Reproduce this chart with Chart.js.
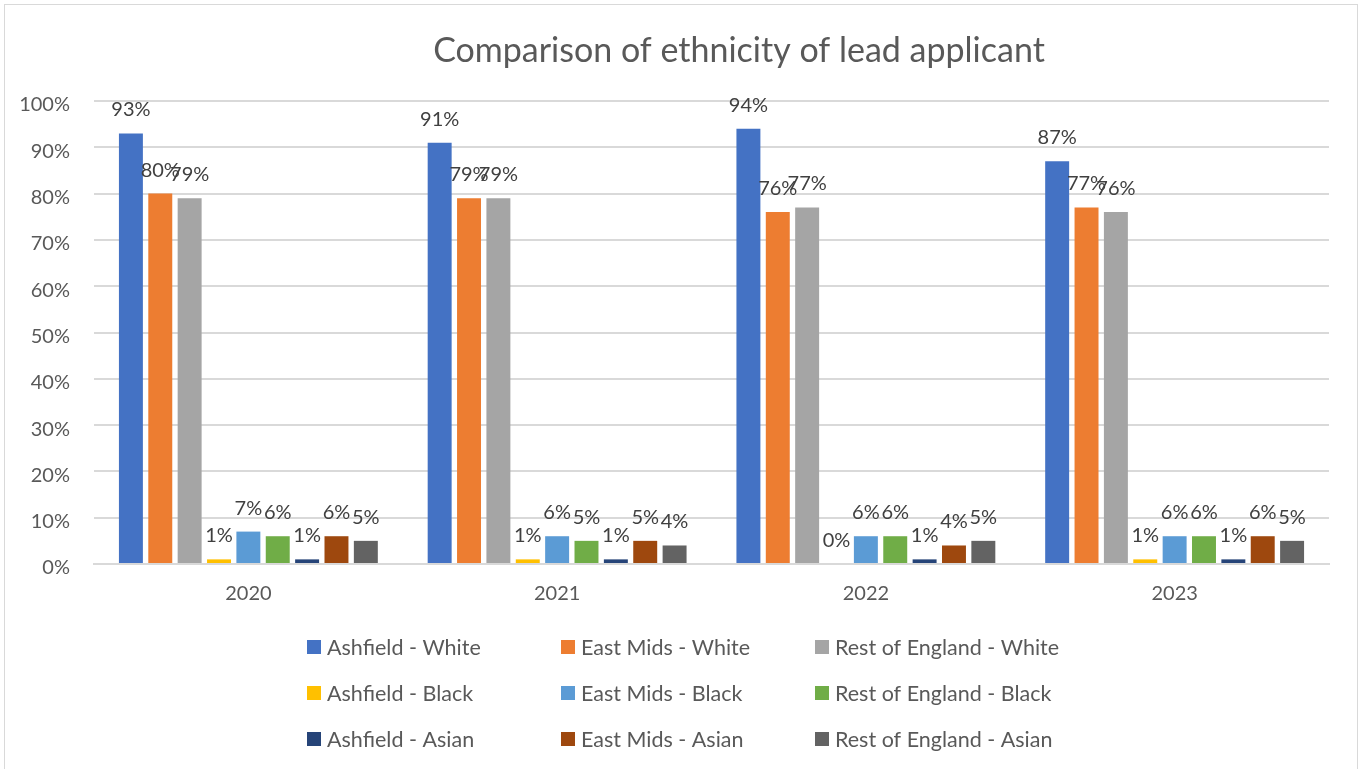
<!DOCTYPE html>
<html>
<head>
<meta charset="utf-8">
<script src="https://cdn.jsdelivr.net/npm/chart.js@4.4.1/dist/chart.umd.min.js"></script>
<style>
  html, body { margin: 0; padding: 0; background: #fff; }
  #frame { position: absolute; left: 4px; top: 4px; width: 1354px; height: 800px; border: 1px solid #d9d9d9; box-sizing: border-box; }
  #chart { position: absolute; left: 0; top: 0; }
</style>
</head>
<body>
<div id="frame"></div>
<canvas id="chart" width="1362" height="769"></canvas>
<script>
var years = ['2020', '2021', '2022', '2023'];
var seriesNames = [
    'Ashfield - White', 'East Mids - White', 'Rest of England - White',
    'Ashfield - Black', 'East Mids - Black', 'Rest of England - Black',
    'Ashfield - Asian', 'East Mids - Asian', 'Rest of England - Asian'
];
var ashfieldWhite = [93, 91, 94, 87];
var eastMidsWhite = [80, 79, 76, 77];
var restWhite = [79, 79, 77, 76];
var ashfieldBlack = [1, 1, 0, 1];
var eastMidsBlack = [7, 6, 6, 6];
var restBlack = [6, 5, 6, 6];
var ashfieldAsian = [1, 1, 1, 1];
var eastMidsAsian = [6, 5, 4, 6];
var restAsian = [5, 4, 5, 5];
var yTicks = [0, 10, 20, 30, 40, 50, 60, 70, 80, 90, 100];

var seriesValues = [ashfieldWhite, eastMidsWhite, restWhite, ashfieldBlack, eastMidsBlack, restBlack, ashfieldAsian, eastMidsAsian, restAsian];
var seriesColors = ['#4472C4', '#ED7D31', '#A5A5A5', '#FFC000', '#5B9BD5', '#70AD47', '#264478', '#9E480E', '#636363'];

var FONT = 'Lato, "Noto Sans", sans-serif';
var textGrey = '#595959';

// etiquetas de valor encima de cada barra
var valueLabels = {
    id: 'valueLabels',
    afterDatasetsDraw: function (chart) {
        var ctx = chart.ctx;
        ctx.save();
        ctx.font = '20px ' + FONT;
        ctx.fillStyle = '#404040';
        ctx.textAlign = 'center';
        ctx.textBaseline = 'alphabetic';
        chart.data.datasets.forEach(function (ds, i) {
            var meta = chart.getDatasetMeta(i);
            meta.data.forEach(function (bar, j) {
                ctx.fillText(ds.data[j] + '%', bar.x, bar.y - 17);
            });
        });
        ctx.restore();
    }
};

// titulo y leyenda en rejilla de 3 columnas
var titleAndLegend = {
    id: 'titleAndLegend',
    afterDraw: function (chart) {
        var ctx = chart.ctx;
        ctx.save();
        ctx.font = '34px ' + FONT;
        ctx.fillStyle = textGrey;
        ctx.textAlign = 'center';
        ctx.textBaseline = 'alphabetic';
        ctx.fillText('Comparison of ethnicity of lead applicant', 739, 62);

        ctx.font = '21.5px ' + FONT;
        ctx.textAlign = 'left';
        ctx.textBaseline = 'middle';
        chart.data.datasets.forEach(function (ds, i) {
            var col = i % 3, row = Math.floor(i / 3);
            var x = 307 + col * 254, y = 647 + row * 46;
            ctx.fillStyle = ds.backgroundColor;
            ctx.fillRect(x, y - 7, 14, 14);
            ctx.fillStyle = textGrey;
            ctx.fillText(ds.label, x + 20, y + 1);
        });
        ctx.restore();
    }
};

new Chart(document.getElementById('chart'), {
    type: 'bar',
    data: {
        labels: years,
        datasets: seriesNames.map(function (name, i) {
            return {
                label: name,
                data: seriesValues[i],
                backgroundColor: seriesColors[i],
                categoryPercentage: 0.856,
                barPercentage: 0.816
            };
        })
    },
    options: {
        responsive: false,
        devicePixelRatio: 1,
        animation: false,
        layout: { padding: { left: 0, right: 33, top: 101, bottom: 165 } },
        plugins: {
            legend: { display: false },
            title: { display: false },
            tooltip: { enabled: false }
        },
        scales: {
            x: {
                grid: { display: false, drawTicks: false },
                border: { display: true, color: '#d9d9d9', width: 2 },
                ticks: { color: textGrey, font: { size: 20, family: FONT }, padding: 18 },
                afterFit: function (scale) { scale.height = 40; }
            },
            y: {
                min: 0,
                max: 100,
                afterBuildTicks: function (scale) {
                    scale.ticks = yTicks.map(function (v) { return { value: v }; });
                },
                grid: { color: '#d9d9d9', lineWidth: 2, drawTicks: false },
                border: { display: false },
                ticks: {
                    color: textGrey,
                    font: { size: 20, family: FONT },
                    padding: 24,
                    labelOffset: 4,
                    callback: function (v) { return v + '%'; }
                },
                afterFit: function (scale) { scale.width = 94; }
            }
        }
    },
    plugins: [valueLabels, titleAndLegend]
});
</script>
</body>
</html>
